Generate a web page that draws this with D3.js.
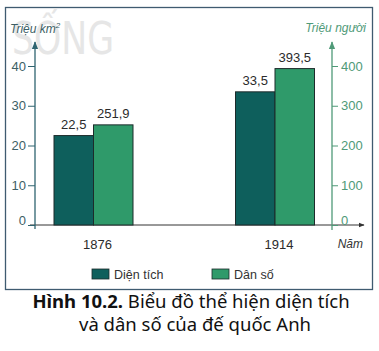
<!DOCTYPE html>
<html><head><meta charset="utf-8">
<script src="https://cdn.jsdelivr.net/npm/d3@7/dist/d3.min.js"></script>
<style>body{margin:0;background:#fff}svg{display:block}</style>
</head><body>
<svg id="c" width="379" height="351"></svg>
<script>
const categories = ["1876", "1914"];
const seriesNames = ["Diện tích", "Dân số"];
const areaValues = [22.5, 33.5];        // Triệu km²
const popValues = [251.9, 393.5];       // Triệu người
const areaLabels = ["22,5", "33,5"];
const popLabels = ["251,9", "393,5"];
const leftTicks = [0, 10, 20, 30, 40];
const rightTicks = [0, 100, 200, 300, 400];
const colors = ["#0e5f5c", "#2f9a6a"];

(function () {
const svg = d3.select("#c");
const base = 225, topY = 66;
const yL = d3.scaleLinear().domain([0, 40]).range([base, topY]);
const yR = d3.scaleLinear().domain([0, 400]).range([base, topY]);
const xG = d3.scalePoint().domain(categories).range([93.5, 275]);
const xS = d3.scaleBand().domain(seriesNames).range([-39.5, 39.5]);

// frame
svg.append("rect").attr("x", 5.5).attr("y", 7.5).attr("width", 367).attr("height", 282)
  .attr("fill", "none").attr("stroke", "#3f5b70").attr("stroke-width", 1.3);

// watermark (faint, behind everything)
svg.append("path")
  .attr("d", "")
svg.append("text").attr("x", 12).attr("y", 54).attr("textLength", 102).attr("lengthAdjust", "spacingAndGlyphs")
  .attr("font-family", "DejaVu Sans Condensed, sans-serif").attr("font-size", 44).attr("fill", "#e6e6e6")
  .text("SỐNG");

const axL = "#2f6470", axR = "#4f9a78";
const defs = svg.append("defs");
function arrow(id, col) {
  defs.append("marker").attr("id", id).attr("viewBox", "0 0 10 10").attr("refX", 9).attr("refY", 5)
    .attr("markerWidth", 6).attr("markerHeight", 6).attr("orient", "auto")
    .append("path").attr("d", "M0,1L10,5L0,9Z").attr("fill", col);
}
arrow("aL", axL); arrow("aR", axR); arrow("aX", "#333");

// x axis line
svg.append("line").attr("x1", 30).attr("x2", 364).attr("y1", base).attr("y2", base)
  .attr("stroke", "#333").attr("stroke-width", 1).attr("marker-end", "url(#aX)");

// bars
const data = categories.map((c, i) => ({ c, vals: [
  { s: seriesNames[0], y: yL(areaValues[i]), lab: areaLabels[i] },
  { s: seriesNames[1], y: yR(popValues[i]), lab: popLabels[i] }] }));
const g = svg.selectAll("g.grp").data(data).join("g").attr("class", "grp")
  .attr("transform", d => `translate(${xG(d.c)},0)`);
g.selectAll("rect").data(d => d.vals).join("rect")
  .attr("x", d => xS(d.s)).attr("width", xS.bandwidth()).attr("y", d => d.y).attr("height", d => base - d.y)
  .attr("fill", (d, i) => colors[i]).attr("stroke", "#1d2b2b").attr("stroke-width", 1);
g.selectAll("text.v").data(d => d.vals).join("text").attr("class", "v")
  .attr("x", d => xS(d.s) + xS.bandwidth() / 2).attr("y", d => d.y - 7)
  .attr("text-anchor", "middle").attr("font-family", "Liberation Sans, Arial, sans-serif")
  .attr("font-size", 13).attr("fill", "#2b2b2b").text(d => d.lab);
g.append("text").attr("x", 4).attr("y", 249).attr("text-anchor", "middle")
  .attr("font-family", "Liberation Sans, Arial, sans-serif").attr("font-size", 13).attr("fill", "#2b2b2b")
  .text(d => d.c);

// left axis
const aL = svg.append("g").attr("transform", "translate(35,0)")
  .call(d3.axisLeft(yL).tickValues(leftTicks).tickSize(7).tickSizeOuter(0).tickPadding(2));
aL.select(".domain").remove();
aL.selectAll("line").attr("stroke", axL);
aL.selectAll("text").attr("font-family", "Liberation Sans, Arial, sans-serif").attr("font-size", 13)
  .attr("fill", "#3d5f66").attr("dy", d => d === 0 ? "-0.05em" : "0.32em");
svg.append("line").attr("x1", 35).attr("x2", 35).attr("y1", 229).attr("y2", 42)
  .attr("stroke", axL).attr("stroke-width", 1.3).attr("marker-end", "url(#aL)");

// right axis
const aR = svg.append("g").attr("transform", "translate(332,0)")
  .call(d3.axisRight(yR).tickValues(rightTicks).tickSize(6).tickSizeOuter(0).tickPadding(3));
aR.select(".domain").remove();
aR.selectAll("line").attr("stroke", axR);
aR.selectAll("text").attr("font-family", "Liberation Sans, Arial, sans-serif").attr("font-size", 13)
  .attr("fill", axR).attr("dy", d => d === 0 ? "-0.05em" : "0.32em");
svg.append("line").attr("x1", 332).attr("x2", 332).attr("y1", 230).attr("y2", 42)
  .attr("stroke", axR).attr("stroke-width", 1.3).attr("marker-end", "url(#aR)");

// axis titles
const tL = svg.append("text").attr("x", 10).attr("y", 33).attr("font-family", "Liberation Sans, Arial, sans-serif")
  .attr("font-size", 12).attr("font-style", "italic").attr("fill", "#3d5f66");
tL.append("tspan").text("Triệu km");
tL.append("tspan").attr("font-size", 8).attr("dy", -5).text("2");
svg.append("text").attr("x", 366).attr("y", 32).attr("text-anchor", "end")
  .attr("font-family", "Liberation Sans, Arial, sans-serif").attr("font-size", 12).attr("font-style", "italic")
  .attr("fill", axR).text("Triệu người");
svg.append("text").attr("x", 363).attr("y", 248).attr("text-anchor", "end")
  .attr("font-family", "Liberation Sans, Arial, sans-serif").attr("font-size", 12).attr("font-style", "italic")
  .attr("fill", "#333").text("Năm");

// legend
const legX = [92, 212];
const lg = svg.selectAll("g.leg").data(seriesNames).join("g").attr("class", "leg")
  .attr("transform", (d, i) => `translate(${legX[i]},269)`);
lg.append("rect").attr("width", 17).attr("height", 10).attr("fill", (d, i) => colors[i])
  .attr("stroke", "#1d2b2b").attr("stroke-width", 0.8);
lg.append("text").attr("x", 22).attr("y", 9.5).attr("font-family", "Liberation Sans, Arial, sans-serif")
  .attr("font-size", 12.5).attr("fill", "#333").text(d => d);

// caption
const cap = svg.append("text").attr("x", 191).attr("y", 308).attr("text-anchor", "middle")
  .attr("font-family", "Noto Sans, Open Sans, sans-serif").attr("font-size", 18.5).attr("fill", "#111");
cap.append("tspan").attr("font-weight", "bold").text("Hình 10.2.");
cap.append("tspan").text(" Biểu đồ thể hiện diện tích");
svg.append("text").attr("x", 195).attr("y", 331).attr("text-anchor", "middle")
  .attr("font-family", "Noto Sans, Open Sans, sans-serif").attr("font-size", 18.5).attr("fill", "#111")
  .text("và dân số của đế quốc Anh");
})();
</script>
</body></html>
